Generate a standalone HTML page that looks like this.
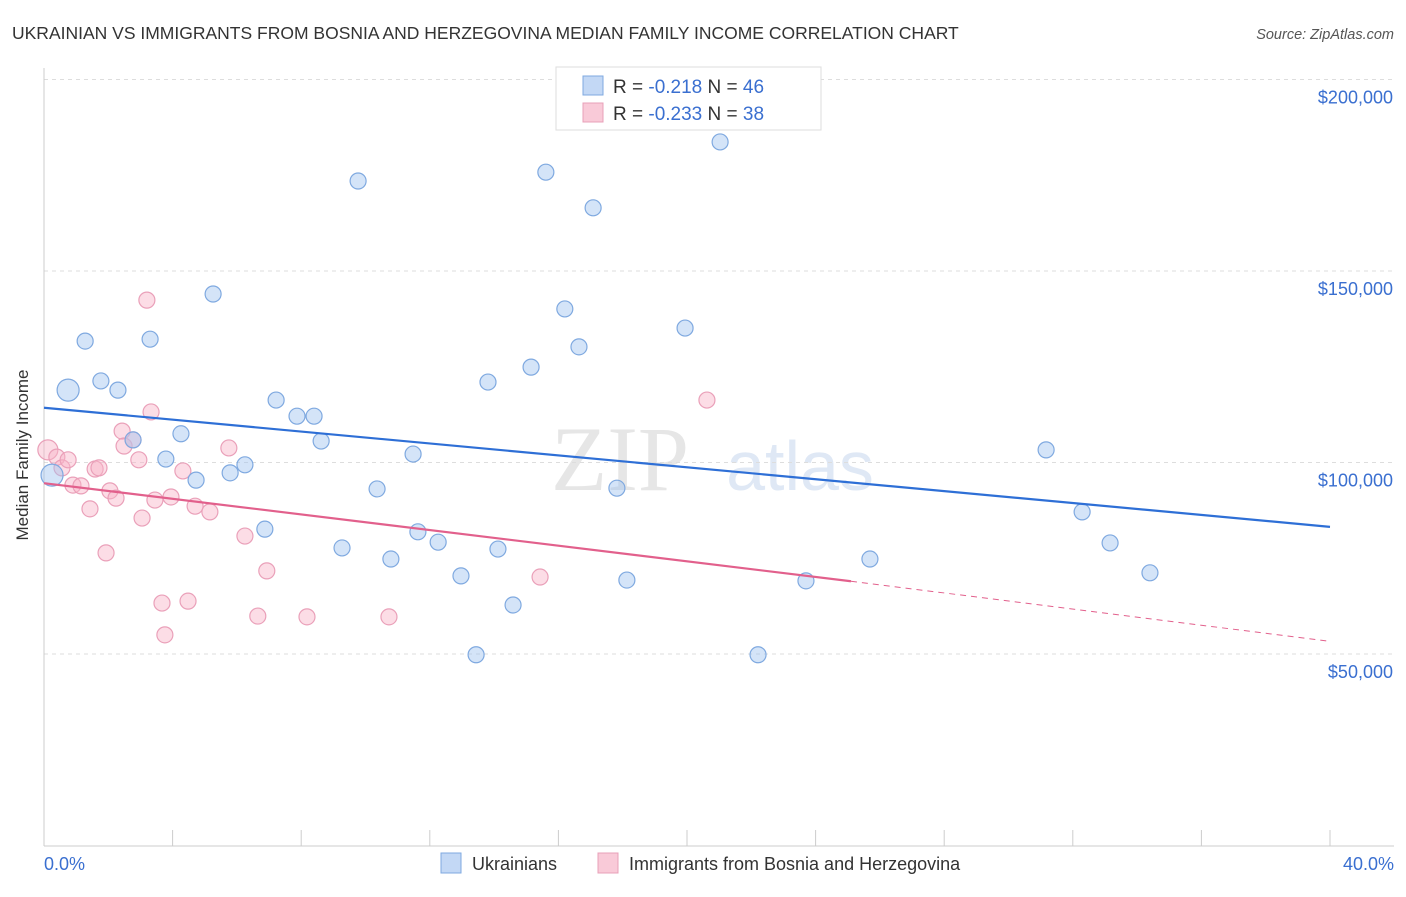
<!DOCTYPE html>
<html><head><meta charset="utf-8"><style>
body{margin:0;background:#fff;font-family:"Liberation Sans",sans-serif;}
</style></head><body>
<svg id="c" width="1406" height="892" xmlns="http://www.w3.org/2000/svg">
<text x="12" y="39" font-size="17.5" fill="#333">UKRAINIAN VS IMMIGRANTS FROM BOSNIA AND HERZEGOVINA MEDIAN FAMILY INCOME CORRELATION CHART</text>
<text x="1394" y="39" font-size="14.5" fill="#555" font-style="italic" text-anchor="end">Source: ZipAtlas.com</text>
<text x="620" y="490" font-size="92" fill="#e6e6e6" font-family="Liberation Serif" text-anchor="middle">ZIP</text>
<text x="800" y="490" font-size="70" fill="#dfe8f5" text-anchor="middle">atlas</text>
<g id="grid"></g><g id="pts"></g><g id="lines"></g>
<text x="28" y="455" font-size="17" fill="#333" text-anchor="middle" transform="rotate(-90 28 455)">Median Family Income</text>
<text x="44" y="870" font-size="18" fill="#3a6fd0">0.0%</text>
<text x="1394" y="870" font-size="18" fill="#3a6fd0" text-anchor="end">40.0%</text>
<g>
<rect x="556" y="67" width="265" height="63" fill="#fff" stroke="#ddd"/>
<rect x="583" y="76" width="20" height="19" fill="#c3d8f5" stroke="#7fa9e0"/>
<rect x="583" y="103" width="20" height="19" fill="#f9cad8" stroke="#e8a0b8"/>
<text x="613" y="93" font-size="19" fill="#333">R = <tspan fill="#3a6fd0">-0.218</tspan>   N = <tspan fill="#3a6fd0">46</tspan></text>
<text x="613" y="120" font-size="19" fill="#333">R = <tspan fill="#3a6fd0">-0.233</tspan>   N = <tspan fill="#3a6fd0">38</tspan></text>
</g>
<g>
<rect x="441" y="853" width="20" height="20" fill="#c3d8f5" stroke="#7fa9e0"/>
<text x="472" y="870" font-size="18" fill="#333">Ukrainians</text>
<rect x="598" y="853" width="20" height="20" fill="#f9cad8" stroke="#e8a0b8"/>
<text x="629" y="870" font-size="18" fill="#333">Immigrants from Bosnia and Herzegovina</text>
</g>
</svg>
<script>
const yTicks=[50000,100000,150000,200000];
const yTickLabels=["$50,000","$100,000","$150,000","$200,000"];
const blueX=[0.75,0.25,1.28,1.77,2.30,2.77,3.30,3.79,4.26,4.73,5.26,5.79,6.25,6.87,7.22,7.87,8.40,8.62,9.27,9.77,10.36,10.79,11.48,11.63,12.26,12.97,13.44,13.81,14.12,14.59,15.15,15.61,16.20,16.64,17.08,17.82,18.13,19.94,21.03,22.21,23.70,25.69,31.17,32.29,33.16,34.40];
const blueY=[118.9,96.7,131.7,121.3,118.9,105.9,132.2,100.9,107.5,95.4,144.0,97.3,99.4,82.6,116.3,112.1,112.1,105.6,77.7,173.5,93.1,74.8,102.2,81.9,79.2,70.4,49.8,121.0,77.4,62.8,124.9,175.8,140.1,130.2,166.5,93.3,69.3,135.1,183.7,49.8,69.1,74.8,103.3,87.1,79.0,71.2];
const pinkX=[0.12,0.40,0.56,0.75,0.90,1.15,1.43,1.59,1.71,1.93,2.05,2.24,2.43,2.49,2.77,2.95,3.05,3.20,3.33,3.45,3.67,3.76,3.95,4.32,4.48,4.70,5.16,5.75,6.25,6.65,6.93,8.18,10.73,15.43,20.62];
const pinkY=[103.3,101.4,98.6,100.7,94.1,93.9,87.9,98.3,98.6,76.4,92.6,90.7,108.2,104.3,105.9,100.7,85.5,142.4,113.2,90.2,63.3,55.0,91.0,97.8,63.8,88.6,87.1,103.8,80.8,59.9,71.7,59.7,59.7,70.1,116.3];
const blueTrend=[114.3,83.2];
const pinkTrend=[94.6,69.0,53.3];
const pinkSolidEnd=25.1;
const NS="http://www.w3.org/2000/svg";
const X=v=>44+v*32.15, Y=k=>845.5-k*1000/261100*1000/1000*1;
function Yk(k){return 845.5-k/0.2611;}
function mk(t,a,p){const e=document.createElementNS(NS,t);for(const k in a)e.setAttribute(k,a[k]);p.appendChild(e);return e;}
const g=document.getElementById('grid');
yTicks.forEach((t,i)=>{const y=Yk(t/1000);
const l=mk('line',{x1:44,x2:1394,y1:y,y2:y,stroke:'#ddd','stroke-dasharray':'4,4'},g);


const tx=mk('text',{x:1393,y:y+24,'font-size':18,fill:'#3a6fd0','text-anchor':'end'},g);
tx.textContent=yTickLabels[i];

});
const ax=mk('line',{x1:44,x2:44,y1:68,y2:846,stroke:'#ccc'},g);


const bx=mk('line',{x1:44,x2:1394,y1:846,y2:846,stroke:'#ccc'},g);


for(let i=0;i<=10;i++){const t=mk('line',{x1:X(i*4),x2:X(i*4),y1:830,y2:846,stroke:'#ccc'},g);

}
const P=document.getElementById('pts');
pinkX.forEach((x,i)=>{const c=mk('circle',{cx:X(x),cy:Yk(pinkY[i]),r:i==0?10:8,fill:'rgba(248,180,200,0.45)',stroke:'#eaa0b9','stroke-width':1.2},P);

});
blueX.forEach((x,i)=>{const c=mk('circle',{cx:X(x),cy:Yk(blueY[i]),r:i<2?11:8,fill:'rgba(160,196,240,0.45)',stroke:'#7fa9e0','stroke-width':1.2},P);

});
const L=document.getElementById('lines');
const b=mk('line',{x1:X(0),y1:Yk(blueTrend[0]),x2:X(40),y2:Yk(blueTrend[1]),stroke:'#2e6fd6','stroke-width':2.2},L);


const p1=mk('line',{x1:X(0),y1:Yk(pinkTrend[0]),x2:X(pinkSolidEnd),y2:Yk(pinkTrend[1]),stroke:'#e2608c','stroke-width':2.2},L);


const p2=mk('line',{x1:X(pinkSolidEnd),y1:Yk(pinkTrend[1]),x2:X(40),y2:Yk(pinkTrend[2]),stroke:'#e2608c','stroke-width':1,'stroke-dasharray':'6,5'},L);


</script>
</body></html>
